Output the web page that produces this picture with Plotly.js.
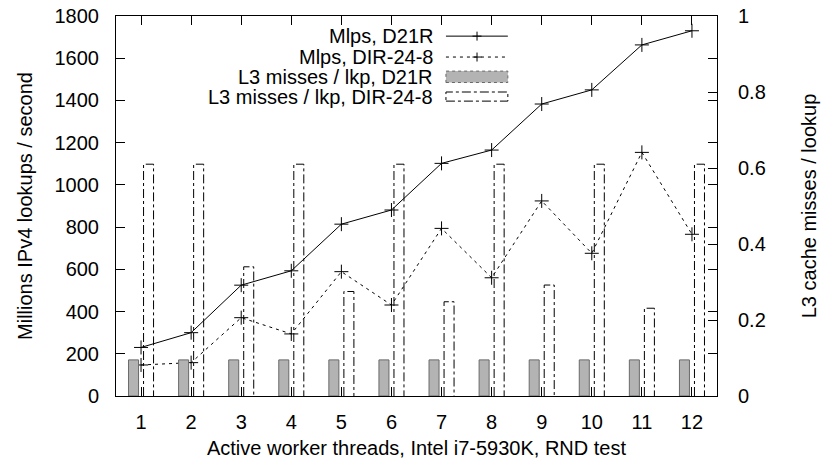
<!DOCTYPE html>
<html>
<head>
<meta charset="utf-8">
<script src="https://cdn.plot.ly/plotly-3.0.1.min.js"></script>
<style>html,body{margin:0;padding:0;background:#fff;}#chart{width:829px;height:463px;}</style>
</head>
<body>
<div id="chart"></div>
<script>
const threads = [1, 2, 3, 4, 5, 6, 7, 8, 9, 10, 11, 12];
const mlpsD21R = [230, 300, 525, 593, 814, 881, 1102, 1165, 1383, 1450, 1663, 1730];
const mlpsDIR = [147, 158, 371, 294, 589, 431, 794, 560, 924, 676, 1154, 766];
const l3D21R = [0.095, 0.095, 0.095, 0.095, 0.095, 0.095, 0.095, 0.095, 0.095, 0.095, 0.095, 0.095];
const l3DIR = [0.61, 0.61, 0.34, 0.61, 0.275, 0.61, 0.248, 0.61, 0.292, 0.61, 0.231, 0.61];
const seriesNames = ["Mlps, D21R", "Mlps, DIR-24-8", "L3 misses / lkp, D21R", "L3 misses / lkp, DIR-24-8"];

const FONT = "Liberation Sans, Arial, Helvetica, sans-serif";

// outline boxes for DIR-24-8 (dash-dot), built from data
const boxX = [], boxY = [];
threads.forEach((t, i) => {
  boxX.push(t + 0.05, t + 0.05, t + 0.25, t + 0.25, null);
  boxY.push(0, l3DIR[i], l3DIR[i], 0, null);
});

const traces = [
  {type: "bar", x: threads, y: l3D21R, yaxis: "y2", offset: -0.25, width: 0.2,
   marker: {color: "#b3b3b3", line: {color: "#6a6a6a", width: 1}}, name: seriesNames[2], showlegend: false},
  {type: "scatter", mode: "lines", x: boxX, y: boxY, yaxis: "y2", connectgaps: false,
   line: {color: "#000", width: 1, dash: "dashdot"}, name: seriesNames[3], showlegend: false},
  {type: "scatter", mode: "lines+markers", x: threads, y: mlpsD21R, yaxis: "y",
   line: {color: "#000", width: 1}, marker: {symbol: "cross-thin", size: 10, line: {color: "#000", width: 1}},
   name: seriesNames[0], showlegend: false},
  {type: "scatter", mode: "lines+markers", x: threads, y: mlpsDIR, yaxis: "y",
   line: {color: "#000", width: 1, dash: "3px,4px"}, marker: {symbol: "cross-thin", size: 10, line: {color: "#000", width: 1}},
   name: seriesNames[1], showlegend: false}
];

// custom legend (text left, sample right) in paper coordinates
const rowsY = [0.947, 0.892, 0.84, 0.788];
const sx0 = 0.549, sx1 = 0.652, sxm = 0.6007;
const cdx = 0.0075, cdy = 0.0118;
const shapes = [
  {type: "line", xref: "paper", yref: "paper", x0: sx0, x1: sx1, y0: rowsY[0], y1: rowsY[0], line: {color: "#000", width: 1}},
  {type: "line", xref: "paper", yref: "paper", x0: sxm - cdx, x1: sxm + cdx, y0: rowsY[0], y1: rowsY[0], line: {color: "#000", width: 1}},
  {type: "line", xref: "paper", yref: "paper", x0: sxm, x1: sxm, y0: rowsY[0] - cdy, y1: rowsY[0] + cdy, line: {color: "#000", width: 1}},
  {type: "line", xref: "paper", yref: "paper", x0: sx0, x1: sx1, y0: rowsY[1], y1: rowsY[1], line: {color: "#000", width: 1, dash: "3px,4px"}},
  {type: "line", xref: "paper", yref: "paper", x0: sxm - cdx, x1: sxm + cdx, y0: rowsY[1], y1: rowsY[1], line: {color: "#000", width: 1}},
  {type: "line", xref: "paper", yref: "paper", x0: sxm, x1: sxm, y0: rowsY[1] - cdy, y1: rowsY[1] + cdy, line: {color: "#000", width: 1}},
  {type: "rect", xref: "paper", yref: "paper", x0: sx0, x1: sx1, y0: rowsY[2] - 0.015, y1: rowsY[2] + 0.015,
   fillcolor: "#b3b3b3", line: {color: "#6a6a6a", width: 1, dash: "dot"}},
  {type: "rect", xref: "paper", yref: "paper", x0: sx0, x1: sx1, y0: rowsY[3] - 0.012, y1: rowsY[3] + 0.012,
   fillcolor: "rgba(0,0,0,0)", line: {color: "#000", width: 1, dash: "dashdot"}}
];
const annotations = seriesNames.map((n, i) => ({
  xref: "paper", yref: "paper", x: 0.531, y: rowsY[i], xanchor: "right", yanchor: "middle",
  text: n, showarrow: false, font: {family: FONT, size: 20, color: "#000"}
}));

const layout = {
  width: 829, height: 463,
  margin: {l: 116, r: 112, t: 16, b: 67, pad: 0},
  paper_bgcolor: "#fff", plot_bgcolor: "#fff",
  font: {family: FONT, size: 20, color: "#000"},
  showlegend: false,
  bargap: 0,
  xaxis: {
    range: [0.5, 12.5], tickvals: threads, ticktext: threads.map(String),
    ticks: "inside", ticklen: 9, tickwidth: 1, tickcolor: "#000",
    showline: true, linecolor: "#000", linewidth: 1, mirror: "ticks",
    showgrid: false, zeroline: false, ticklabelstandoff: 8,
    title: {text: "Active worker threads, Intel i7-5930K, RND test", font: {family: FONT, size: 20}, standoff: 8}
  },
  yaxis: {
    range: [0, 1800], dtick: 200, tick0: 0,
    ticks: "inside", ticklen: 9, tickwidth: 1, tickcolor: "#000",
    showline: true, linecolor: "#000", linewidth: 1, mirror: "ticks",
    showgrid: false, zeroline: false, ticklabelstandoff: 12,
    title: {text: "Millions IPv4 lookups / second", font: {family: FONT, size: 20}, standoff: 16}
  },
  yaxis2: {
    range: [0, 1], dtick: 0.2, tick0: 0, overlaying: "y", side: "right",
    ticks: "inside", ticklen: 9, tickwidth: 1, tickcolor: "#000",
    showline: true, linecolor: "#000", linewidth: 1,
    showgrid: false, zeroline: false, ticklabelstandoff: 16,
    title: {text: "L3 cache misses / lookup", font: {family: FONT, size: 20}, standoff: 37}
  },
  shapes: shapes,
  annotations: annotations
};

Plotly.newPlot("chart", traces, layout, {displayModeBar: false, staticPlot: true});
</script>
</body>
</html>
